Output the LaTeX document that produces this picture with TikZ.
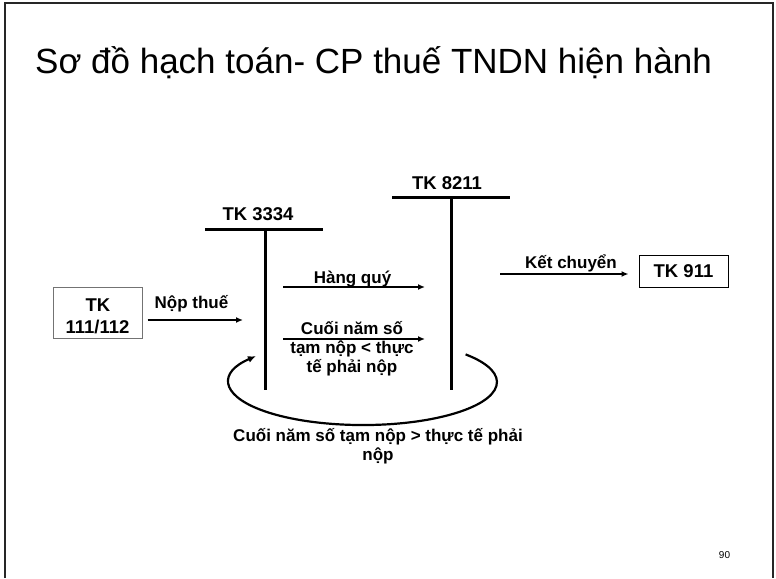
\documentclass[tikz,border=0pt]{standalone}
\usepackage{fontspec}
\setmainfont{Liberation Sans}
\usetikzlibrary{arrows.meta}
\begin{document}
\begin{tikzpicture}[x=1pt,y=-1pt,
  lbl/.style={font=\fontsize{17}{19}\selectfont\bfseries, inner sep=0pt, anchor=base},
  tklbl/.style={font=\fontsize{18.5}{22}\selectfont\bfseries, inner sep=0pt, anchor=base},
  tline/.style={line width=3pt},
  arr/.style={line width=1.6pt, -{Latex[length=7pt,width=6pt]}},
  acctbox/.style={font=\fontsize{18.5}{22}\selectfont\bfseries, inner sep=0pt, line width=1pt, align=center},
  ]
\useasboundingbox (0,0) rectangle (776,578);
% frame
\draw[line width=2pt, black!85] (5,578) -- (5,3.5) -- (773,3.5) -- (773,578);
% title
\node[font=\fontsize{35}{40}\selectfont, inner sep=0pt, anchor=base] (title) at (373.5,74) {Sơ đồ hạch toán- CP thuế TNDN hiện hành};

% T-account 3334
\node[tklbl] (tk3334) at (258,220) {TK 3334};
\coordinate (a1L) at (205,229);
\coordinate (a1R) at (323,229);
\coordinate (a1T) at (265,229);
\coordinate (a1B) at (265,390);
\draw[tline] (a1L) -- (a1R);
\draw[tline] (a1T) -- (a1B);

% T-account 8211
\node[tklbl] (tk8211) at (447,189) {TK 8211};
\coordinate (a2L) at (392,197);
\coordinate (a2R) at (510,197);
\coordinate (a2T) at (451,197);
\coordinate (a2B) at (451,390);
\draw[tline] (a2L) -- (a2R);
\draw[tline] (a2T) -- (a2B);

% boxes
\node[acctbox, draw=black!55, minimum width=89pt, minimum height=51pt] (tk111) at (97.5,312.5) {};
\node[tklbl] (tk111a) at (98,311) {TK};
\node[tklbl] (tk111b) at (97.5,333) {111/112};
\node[acctbox, draw=black, minimum width=89pt, minimum height=32pt] (tk911) at (683.5,271) {TK 911};

% Nop thue
\node[lbl] (nop) at (191.5,308) {Nộp thuế};
\coordinate (nopE) at (243,320);
\draw[arr] ([xshift=5pt]tk111.east |- nopE) -- (nopE);

% Hang quy
\node[lbl] (hq) at (352.5,283) {Hàng quý};
\coordinate (hqS) at (283,287);
\coordinate (hqE) at (425,287);
\draw[arr] (hqS) -- (hqE);

% Cuoi nam (<)
\node[lbl, align=center] (cn1) at (352,372) {Cuối năm số\\tạm nộp < thực\\tế phải nộp};
\coordinate (cnS) at (283,339);
\coordinate (cnE) at (425,339);
\draw[arr] (cnS) -- (cnE);

% Ket chuyen
\node[lbl] (kc) at (571,268) {Kết chuyển};
\coordinate (kcS) at (500,274);
\draw[arr] (kcS) -- ([xshift=-10pt]tk911.west |- kcS);

% loop arc
\coordinate (ellS) at (465.6,354.4);
\draw[line width=2.2pt, -{Latex[length=8pt,width=7pt]}] (ellS) arc[start angle=-40, end angle=217, x radius=134, y radius=43];
\node[lbl, align=center] (cn2) at (378,460) {Cuối năm số tạm nộp > thực tế phải\\nộp};

% page number
\node[font=\fontsize{10}{12}\selectfont, inner sep=0pt, anchor=base] (pg) at (724.5,558) {90};
\end{tikzpicture}
\end{document}
